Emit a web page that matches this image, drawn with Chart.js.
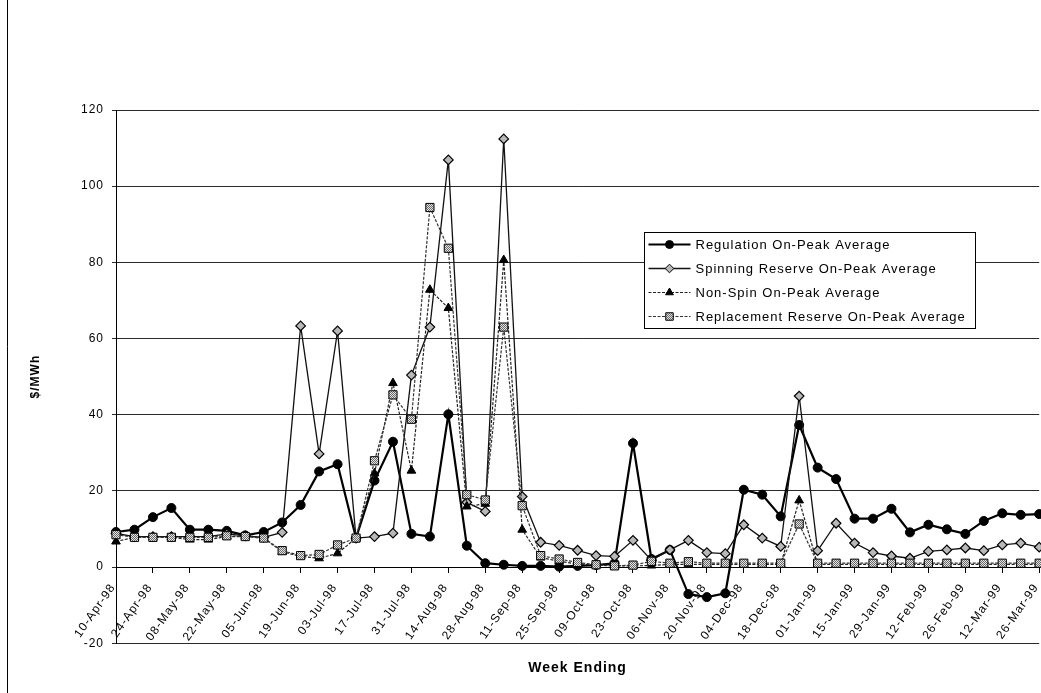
<!DOCTYPE html>
<html>
<head>
<meta charset="utf-8">
<title>On-Peak Average Ancillary Service Prices</title>
<script src="https://cdn.jsdelivr.net/npm/chart.js@4.4.1/dist/chart.umd.min.js"></script>
<style>
  html, body { margin: 0; padding: 0; background: #fff; overflow: hidden; }
  #wrap { width: 1046px; height: 693px; }
</style>
</head>
<body>
<div id="wrap"><canvas id="chart" width="1046" height="693"></canvas></div>
<script>
// --- Data ($/MWh) ---
const weekEnding = [
  '10-Apr-98', '17-Apr-98', '24-Apr-98', '01-May-98', '08-May-98', '15-May-98', '22-May-98', '29-May-98',
  '05-Jun-98', '12-Jun-98', '19-Jun-98', '26-Jun-98', '03-Jul-98', '10-Jul-98', '17-Jul-98', '24-Jul-98',
  '31-Jul-98', '07-Aug-98', '14-Aug-98', '21-Aug-98', '28-Aug-98', '04-Sep-98', '11-Sep-98', '18-Sep-98',
  '25-Sep-98', '02-Oct-98', '09-Oct-98', '16-Oct-98', '23-Oct-98', '30-Oct-98', '06-Nov-98', '13-Nov-98',
  '20-Nov-98', '27-Nov-98', '04-Dec-98', '11-Dec-98', '18-Dec-98', '25-Dec-98', '01-Jan-99', '08-Jan-99',
  '15-Jan-99', '22-Jan-99', '29-Jan-99', '05-Feb-99', '12-Feb-99', '19-Feb-99', '26-Feb-99', '05-Mar-99',
  '12-Mar-99', '19-Mar-99', '26-Mar-99'
];

const regulation = [
  9.2, 9.8, 13.1, 15.5, 9.8, 9.8, 9.5, 8.3, 9.2, 11.7,
  16.3, 25.1, 27.0, 7.6, 22.7, 32.9, 8.7, 8.0, 40.1, 5.6,
  1.0, 0.6, 0.3, 0.3, 0.1, 0.3, 0.5, 1.0, 32.5, 2.1,
  4.5, -7.1, -7.9, -6.9, 20.3, 19.0, 13.3, 37.3, 26.1, 23.1,
  12.7, 12.7, 15.3, 9.1, 11.1, 9.9, 8.7, 12.1, 14.1, 13.7,
  13.9
];
const spinning = [
  8.8, 8.0, 8.0, 8.0, 8.0, 8.0, 8.7, 8.2, 7.8, 9.1,
  63.3, 29.7, 62.0, 7.6, 8.0, 8.9, 50.4, 63.0, 106.9, 17.0,
  14.6, 112.4, 18.5, 6.5, 5.7, 4.4, 3.0, 2.8, 7.0, 1.8,
  4.5, 7.0, 3.8, 3.5, 11.1, 7.6, 5.4, 44.9, 4.3, 11.5,
  6.3, 3.8, 2.9, 2.3, 4.1, 4.5, 5.0, 4.3, 5.8, 6.3,
  5.2
];
const nonSpin = [
  6.7, 7.8, 7.8, 7.8, 7.2, 7.2, 8.0, 8.0, 7.6, 4.0,
  2.8, 2.3, 3.6, 7.6, 24.6, 48.3, 25.3, 72.8, 68.0, 15.9,
  16.6, 80.6, 9.8, 2.5, 1.5, 0.8, 0.5, 0.3, 0.3, 0.4,
  0.7, 0.7, 0.7, 0.7, 0.7, 0.7, 0.7, 17.5, 0.7, 0.7,
  0.7, 0.7, 0.7, 0.7, 0.7, 0.7, 0.7, 0.7, 0.7, 0.7,
  0.7
];
const replacement = [
  8.5, 7.8, 7.8, 7.8, 7.8, 7.8, 8.2, 8.0, 7.6, 4.3,
  3.0, 3.3, 5.8, 7.6, 27.9, 45.2, 38.8, 94.4, 83.7, 19.0,
  17.6, 63.0, 16.1, 3.0, 2.1, 1.2, 0.6, 0.3, 0.5, 1.5,
  1.0, 1.4, 1.0, 1.0, 1.0, 1.0, 1.0, 11.3, 1.0, 1.0,
  1.0, 1.0, 1.0, 1.0, 1.0, 1.0, 1.0, 1.0, 1.0, 1.0,
  1.0
];

const seriesNames = [
  'Regulation On-Peak Average',
  'Spinning Reserve On-Peak Average',
  'Non-Spin On-Peak Average',
  'Replacement Reserve On-Peak Average'
];
const yMin = -20, yMax = 120, yStep = 20;

const FONT = '"Liberation Sans", Arial, Helvetica, sans-serif';

// grey mottled fill like the scanned square markers
function hatch() {
  const c = document.createElement('canvas');
  c.width = 2; c.height = 2;
  const g = c.getContext('2d');
  g.fillStyle = '#e4e4e4'; g.fillRect(0, 0, 2, 2);
  g.fillStyle = '#6a6a6a'; g.fillRect(0, 0, 1, 1); g.fillRect(1, 1, 1, 1);
  return g.createPattern(c, 'repeat');
}

// --- Plugins ---
const pageFrame = {
  id: 'pageFrame',
  beforeDraw(chart) {
    const ctx = chart.ctx;
    ctx.save();
    ctx.fillStyle = '#fff';
    ctx.fillRect(0, 0, chart.width, chart.height);
    ctx.strokeStyle = '#000';
    ctx.lineWidth = 1;
    ctx.beginPath();
    ctx.moveTo(7.5, 0); ctx.lineTo(7.5, chart.height);
    ctx.stroke();
    ctx.restore();
    ctx.letterSpacing = '1px';
  }
};

const legendBox = { x: 644.5, y: 232.5, w: 331, h: 96, row: 24 };
const boxLegend = {
  id: 'boxLegend',
  afterDraw(chart) {
    const ctx = chart.ctx;
    const b = legendBox;
    ctx.save();
    ctx.fillStyle = '#fff';
    ctx.strokeStyle = '#000';
    ctx.lineWidth = 1;
    ctx.fillRect(b.x, b.y, b.w, b.h);
    ctx.strokeRect(b.x, b.y, b.w, b.h);
    chart.data.datasets.forEach((ds, i) => {
      const y = b.y + 12 + i * b.row;
      ctx.save();
      ctx.strokeStyle = ds.borderColor;
      ctx.lineWidth = ds.borderWidth;
      ctx.setLineDash(ds.borderDash || []);
      ctx.beginPath();
      ctx.moveTo(b.x + 4, y); ctx.lineTo(b.x + 46, y);
      ctx.stroke();
      ctx.restore();
      ctx.fillStyle = ds.pointBackgroundColor;
      ctx.strokeStyle = ds.pointBorderColor;
      Chart.helpers.drawPoint(ctx, {
        pointStyle: ds.pointStyle, radius: ds.pointRadius - 0.5,
        borderWidth: ds.pointBorderWidth, rotation: 0
      }, b.x + 25, y);
      ctx.fillStyle = '#000';
      ctx.font = '13px ' + FONT;
      ctx.textAlign = 'left';
      ctx.textBaseline = 'middle';
      ctx.fillText(ds.label, b.x + 51, y + 1);
    });
    ctx.restore();
  }
};

// --- Chart ---
const ctx = document.getElementById('chart').getContext('2d');
new Chart(ctx, {
  type: 'line',
  data: {
    labels: weekEnding,
    datasets: [
      { label: seriesNames[0], data: regulation, order: 4,
        borderColor: '#000', borderWidth: 2.2,
        pointStyle: 'circle', pointRadius: 4.5, pointBackgroundColor: '#000', pointBorderColor: '#000', pointBorderWidth: 1 },
      { label: seriesNames[1], data: spinning, order: 3,
        borderColor: '#111', borderWidth: 1.3,
        pointStyle: 'rectRot', pointRadius: 4.8, pointBackgroundColor: '#b8b8b8', pointBorderColor: '#000', pointBorderWidth: 1.2 },
      { label: seriesNames[2], data: nonSpin, order: 2,
        borderColor: '#222', borderWidth: 1.2, borderDash: [3, 1.5],
        pointStyle: 'triangle', pointRadius: 5, pointBackgroundColor: '#000', pointBorderColor: '#000', pointBorderWidth: 1 },
      { label: seriesNames[3], data: replacement, order: 1,
        borderColor: '#333', borderWidth: 1.2, borderDash: [3, 1.5],
        pointStyle: 'rect', pointRadius: 5.8, pointBackgroundColor: hatch(), pointBorderColor: '#000', pointBorderWidth: 1 }
    ].map(ds => Object.assign(ds, { tension: 0, fill: false, clip: false }))
  },
  options: {
    responsive: false,
    animation: false,
    events: [],
    layout: { padding: { left: 0, right: 2.5, top: 110, bottom: 4 } },
    plugins: {
      legend: { display: false },
      tooltip: { enabled: false },
      title: {
        display: true, text: 'Week Ending', position: 'bottom', fullSize: false,
        color: '#000', font: { family: FONT, size: 14, weight: 'bold' },
        padding: { top: 17, bottom: 12 }
      }
    },
    scales: {
      x: {
        position: { y: 0 },
        offset: false,
        grid: { display: true, drawOnChartArea: false, drawTicks: true, tickLength: 5, color: '#000' },
        border: { display: true, color: '#000', width: 1 },
        ticks: {
          autoSkip: false, minRotation: 55, maxRotation: 55,
          padding: 9, labelOffset: -3,
          color: '#000', font: { family: FONT, size: 12 },
          callback(value, index) { return index % 2 === 0 ? this.getLabelForValue(value) : null; }
        },
        // labels hang below the zero line inside the plot, so reserve no room for them
        afterFit(scale) {
          scale.height = 0;
          scale.paddingLeft = 0;
          scale.paddingRight = 0;
        }
      },
      y: {
        min: yMin, max: yMax,
        grid: { color: '#2a2a2a', lineWidth: 1, tickLength: 4 },
        border: { display: true, color: '#000', width: 1 },
        ticks: { stepSize: yStep, padding: 8, color: '#000', font: { family: FONT, size: 12 } },
        title: {
          display: true, text: '$/MWh', color: '#000',
          font: { family: FONT, size: 12, weight: 'bold' },
          padding: { top: 28, bottom: 0 }
        },
        afterFit(scale) { scale.width = 116; }
      }
    }
  },
  plugins: [pageFrame, boxLegend]
});
</script>
</body>
</html>
